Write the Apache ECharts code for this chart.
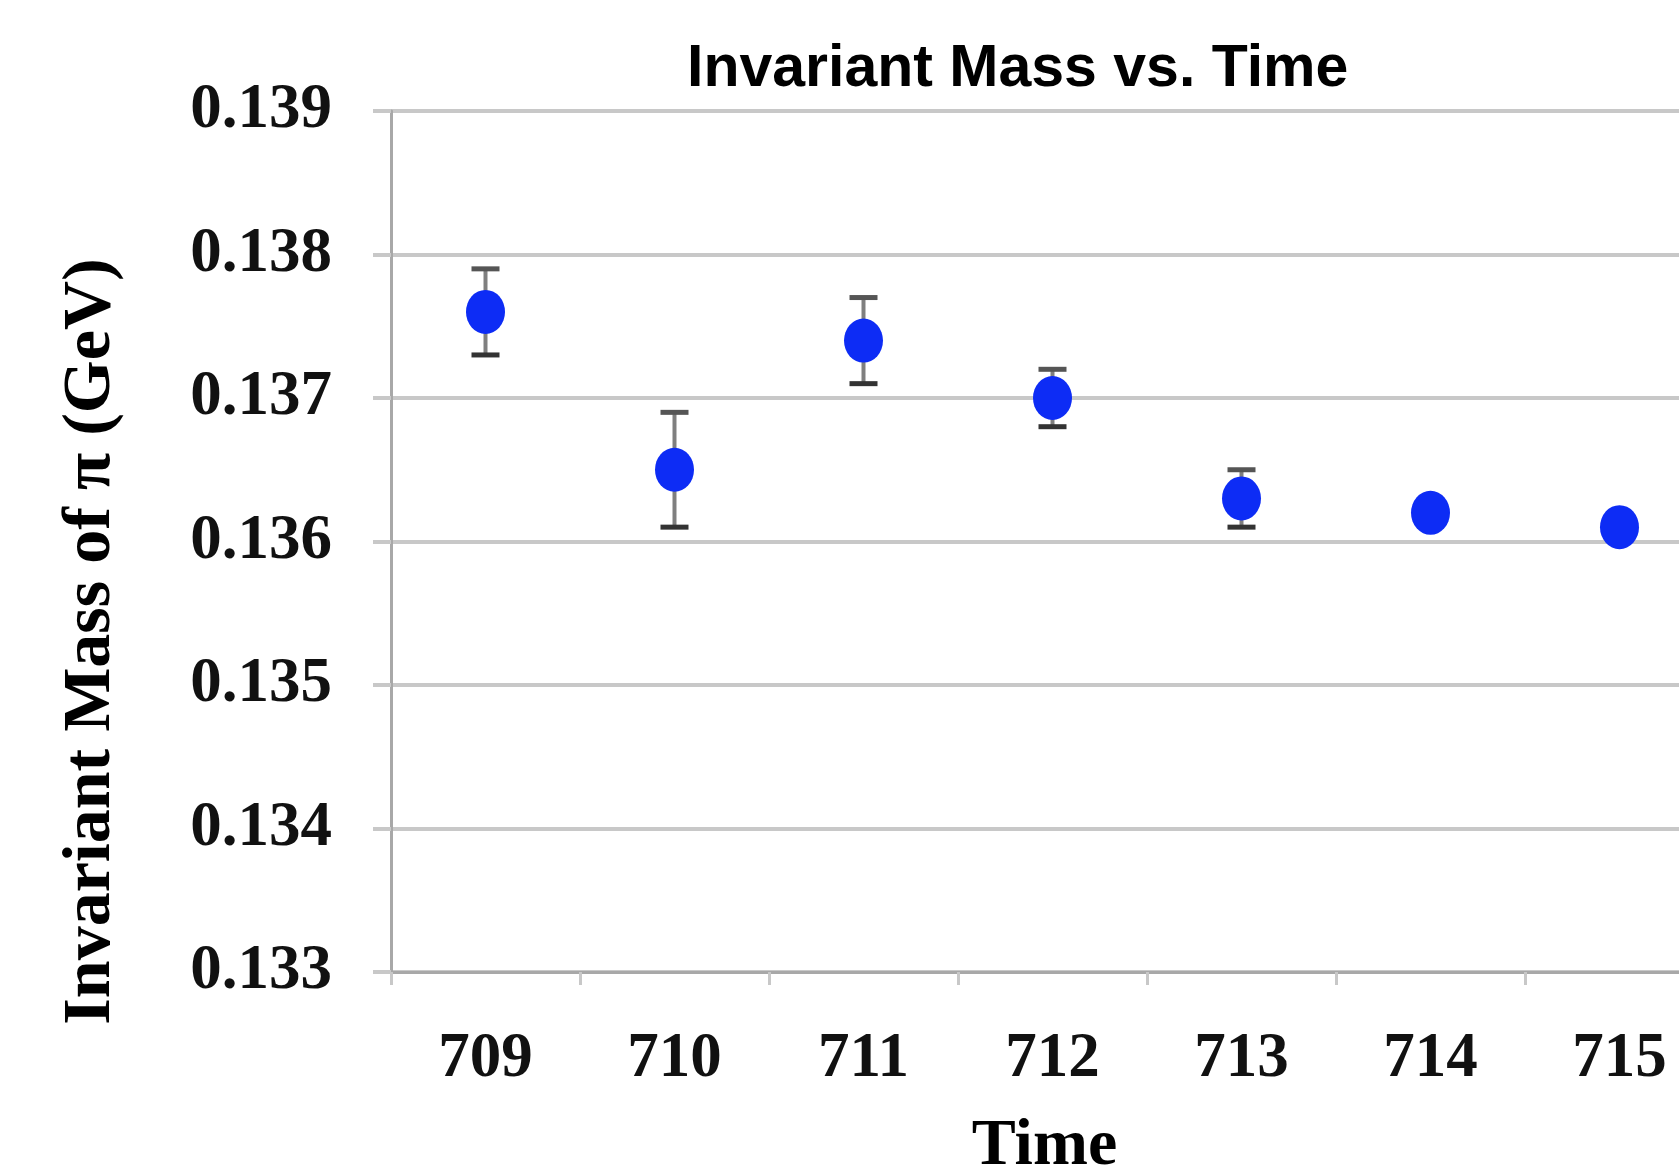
<!DOCTYPE html>
<html>
<head>
<meta charset="utf-8">
<title>Invariant Mass vs. Time</title>
<script src="https://cdn.jsdelivr.net/npm/echarts@6/dist/echarts.min.js"></script>
<style>
  html, body { margin: 0; padding: 0; background: #fff; }
  #main { width: 1679px; height: 1168px; }
</style>
</head>
<body>
<div id="main"></div>
<script>
// data
var times = ['709', '710', '711', '712', '713', '714', '715'];
var mass = [0.1376, 0.1365, 0.1374, 0.1370, 0.1363, 0.1362, 0.1361];
var massErr = [0.0003, 0.0004, 0.0003, 0.0002, 0.0002, 0, 0];
var yTicks = [0.133, 0.134, 0.135, 0.136, 0.137, 0.138, 0.139];

var myChart = echarts.init(document.getElementById('main'));

var points = mass.map(function (m, i) { return [i, m]; });
var bars = [];
mass.forEach(function (m, i) {
    if (massErr[i] > 0) bars.push([i, m - massErr[i], m + massErr[i]]);
});

var serif = '"Liberation Serif", "DejaVu Serif", serif';

var option = {
    backgroundColor: '#ffffff',
    title: {
        text: 'Invariant Mass vs. Time',
        left: 682,
        top: 35,
        textStyle: {
            color: '#000',
            fontFamily: '"Liberation Sans", Arial, sans-serif',
            fontWeight: 'bold',
            fontSize: 59
        }
    },
    grid: {
        left: 391,
        top: 111,
        width: 1323,
        height: 861,
        containLabel: false,
        outerBoundsMode: 'none'
    },
    xAxis: {
        type: 'category',
        data: times,
        boundaryGap: true,
        name: 'Time',
        nameLocation: 'middle',
        nameGap: 142,
        nameTextStyle: {
            color: '#000',
            fontFamily: serif,
            fontWeight: 'bold',
            fontSize: 66,
            padding: [0, 16, 0, 0]
        },
        axisLine: { lineStyle: { color: '#a8a8a8', width: 3 } },
        axisTick: { show: true, length: 13, lineStyle: { color: '#c8c8c8', width: 3 } },
        axisLabel: {
            margin: 56,
            color: '#111',
            fontFamily: serif,
            fontWeight: 'bold',
            fontSize: 63
        },
        splitLine: { show: false }
    },
    yAxis: {
        type: 'value',
        min: 0.133,
        max: 0.139,
        interval: 0.001,
        name: 'Invariant Mass of π (GeV)',
        nameLocation: 'middle',
        nameGap: 266,
        nameRotate: 90,
        nameTextStyle: {
            color: '#000',
            fontFamily: serif,
            fontWeight: 'bold',
            fontSize: 68,
            padding: [0, 200, 0, 0]
        },
        axisLine: { show: true, lineStyle: { color: '#a8a8a8', width: 3 } },
        axisTick: { show: true, length: 18, lineStyle: { color: '#c8c8c8', width: 4 } },
        axisLabel: {
            margin: 59,
            color: '#111',
            fontFamily: serif,
            fontWeight: 'bold',
            fontSize: 63,
            padding: [14, 0, 0, 0],
            formatter: function (v) { return v.toFixed(3); }
        },
        splitLine: { show: true, lineStyle: { color: '#c8c8c8', width: 4 } }
    },
    series: [
        {
            name: 'error',
            type: 'custom',
            z: 2,
            data: bars,
            renderItem: function (params, api) {
                var x = api.value(0);
                var lo = api.coord([x, api.value(1)]);
                var hi = api.coord([x, api.value(2)]);
                var half = 14;
                return {
                    type: 'group',
                    children: [
                        { type: 'line', shape: { x1: hi[0], y1: hi[1], x2: lo[0], y2: lo[1] },
                          style: { stroke: '#7f7f7f', lineWidth: 4 } },
                        { type: 'line', shape: { x1: hi[0] - half, y1: hi[1], x2: hi[0] + half, y2: hi[1] },
                          style: { stroke: '#555', lineWidth: 5 } },
                        { type: 'line', shape: { x1: lo[0] - half, y1: lo[1], x2: lo[0] + half, y2: lo[1] },
                          style: { stroke: '#333', lineWidth: 5 } }
                    ]
                };
            }
        },
        {
            name: 'mass',
            type: 'scatter',
            z: 3,
            data: points,
            symbol: 'circle',
            symbolSize: [39, 44],
            itemStyle: { color: '#0d2cf5', opacity: 1 }
        }
    ]
};

myChart.setOption(option);
</script>
</body>
</html>
